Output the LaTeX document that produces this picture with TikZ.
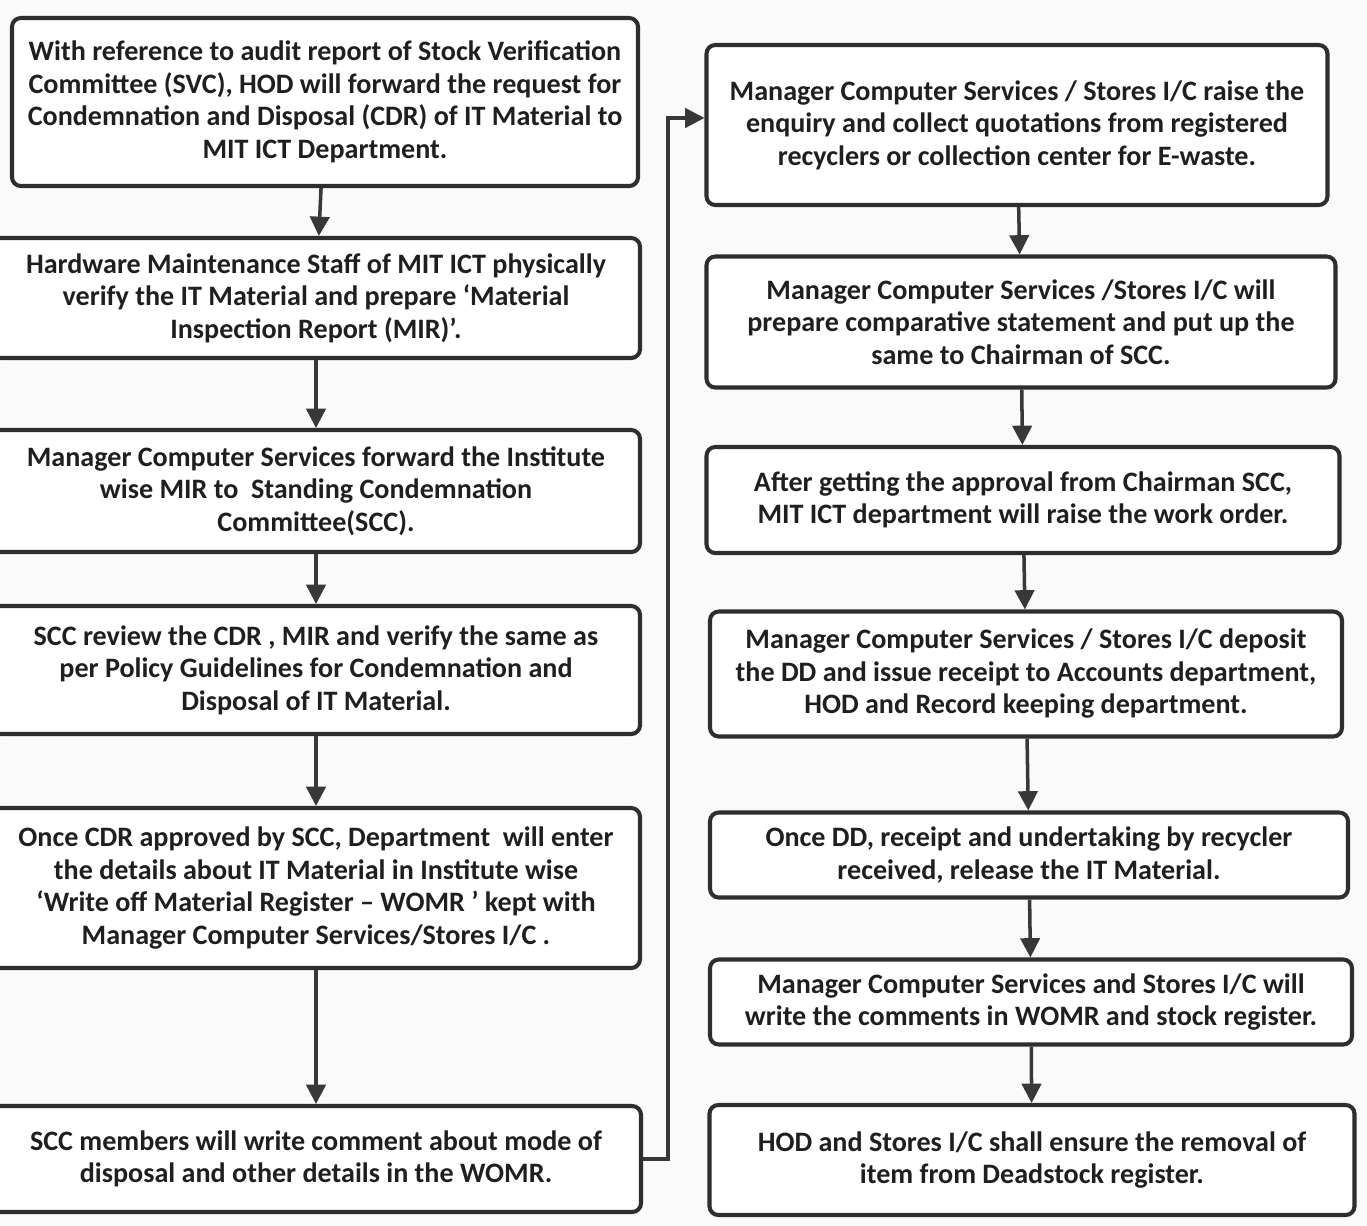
\documentclass[tikz,border=0pt]{standalone}
\usepackage{fontspec}
\setmainfont{Carlito}
\usetikzlibrary{arrows.meta}
\begin{document}
\begin{tikzpicture}[>={Triangle[length=11pt,width=11pt]}, x=0.02cm, y=-0.02cm,
  stepbox/.style={draw=black!82, line width=2.3pt, rounded corners=5pt, fill=white,
    align=center, text=black!88, inner sep=0pt,
    font=\fontsize{16}{18.5}\selectfont\bfseries},
  sz/.style 2 args={minimum width=#1*0.02cm, minimum height=#2*0.02cm},
  link/.style={->, line width=2pt, draw=black!78}]
% page
\useasboundingbox (0,0) rectangle (1367,1225);
\fill[gray!4] (0,0) rectangle (1367,1225);

% === Left column ===
\node[stepbox, sz={626}{168}]
  (L1) at (325,102) {With reference to audit report of Stock Verification\\
  Committee (SVC), HOD will forward the request for\\
  Condemnation and Disposal (CDR) of IT Material to\\
  MIT ICT Department.};
\node[stepbox, sz={648}{120}]
  (L2) at (316,298) {Hardware Maintenance Staff of MIT ICT physically\\
  verify the IT Material and prepare ‘Material\\
  Inspection Report (MIR)’.};
\node[stepbox, sz={648}{122}]
  (L3) at (316,491) {Manager Computer Services forward the Institute\\
  wise MIR to~ Standing Condemnation\\
  Committee(SCC).};
\node[stepbox, sz={648}{128}]
  (L4) at (316,670) {SCC review the CDR , MIR and verify the same as\\
  per Policy Guidelines for Condemnation and\\
  Disposal of IT Material.};
\node[stepbox, sz={648}{160}]
  (L5) at (316,888) {Once CDR approved by SCC, Department~ will enter\\
  the details about IT Material in Institute wise\\
  ‘Write off Material Register – WOMR ’ kept with\\
  Manager Computer Services/Stores I/C .};
\node[stepbox, sz={650}{106}]
  (L6) at (316,1159) {SCC members will write comment about mode of\\
  disposal and other details in the WOMR.};

% === Right column ===
\node[stepbox, sz={621}{160}]
  (R1) at (1017,125) {Manager Computer Services / Stores I/C raise the\\
  enquiry and collect quotations from registered\\
  recyclers or collection center for E-waste.};
\node[stepbox, sz={629}{131}]
  (R2) at (1021,322) {Manager Computer Services /Stores I/C will\\
  prepare comparative statement and put up the\\
  same to Chairman of SCC.};
\node[stepbox, sz={633}{106}]
  (R3) at (1023,500) {After getting the approval from Chairman SCC,\\
  MIT ICT department will raise the work order.};
\node[stepbox, sz={632}{125}]
  (R4) at (1026,674) {Manager Computer Services / Stores I/C deposit\\
  the DD and issue receipt to Accounts department,\\
  HOD and Record keeping department.};
\node[stepbox, sz={638}{85}]
  (R5) at (1029,855) {Once DD, receipt and undertaking by recycler\\
  received, release the IT Material.};
\node[stepbox, sz={642}{85}]
  (R6) at (1031,1002) {Manager Computer Services and Stores I/C will\\
  write the comments in WOMR and stock register.};
\node[stepbox, sz={645}{110}]
  (R7) at (1032,1160) {HOD and Stores I/C shall ensure the removal of\\
  item from Deadstock register.};

% === Connections ===
\foreach \a/\b in {L1/L2, L2/L3, L3/L4, L4/L5, L5/L6}{
  \draw[link] (\a) -- (\b);
}
\foreach \a/\b in {R1/R2, R2/R3, R3/R4, R4/R5, R5/R6, R6/R7}{
  \draw[link] (\a) -- (\b);
}
% Left column -> right column
\draw[link] (L6.east) -- ++(25,0) |- ([yshift=4pt]R1.west);

\end{tikzpicture}
\end{document}
